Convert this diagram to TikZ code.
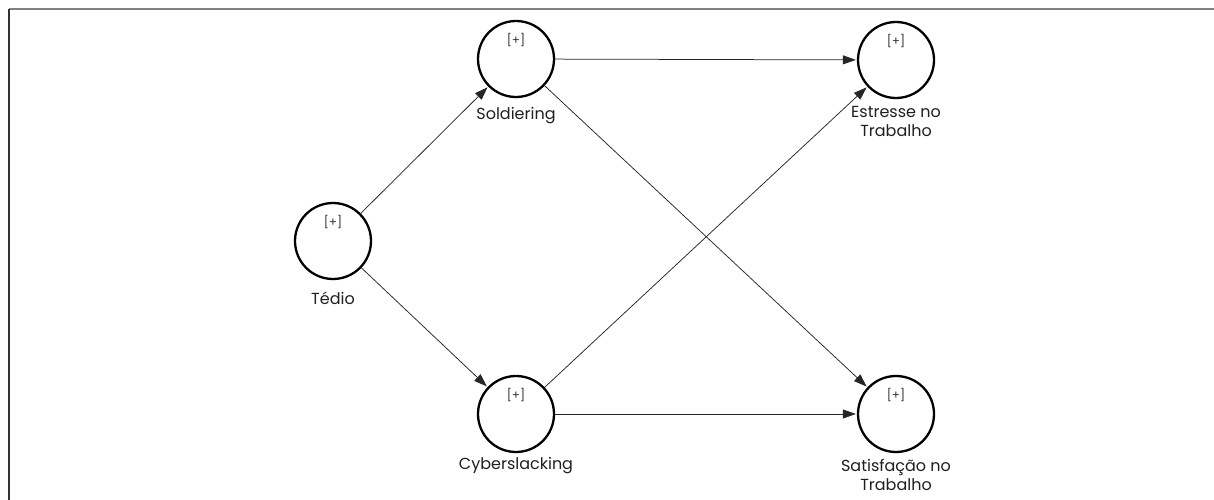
\documentclass[tikz,border=0pt]{standalone}
\usepackage{fontspec}
\setmainfont{Poppins}
\usetikzlibrary{arrows.meta}
\begin{document}
\begin{tikzpicture}[x=1pt,y=-1pt,
  construct/.style={circle,draw=black,line width=2.3pt,minimum size=76pt,inner sep=0pt},
  caption/.style={text=black!88,font=\fontsize{16}{19}\selectfont,align=center,inner sep=0pt},
  plus/.style={text=black!80,font=\fontsize{12}{13}\selectfont,inner sep=0pt},
  path/.style={draw=black!85,line width=0.75pt,-{Triangle[length=13pt,width=9pt]},shorten >=1pt}]
\useasboundingbox (0,0) rectangle (1214,500);
% frame
\coordinate (ftl) at (9,9);
\coordinate (ftr) at (1214,9);
\coordinate (fbl) at (9,500);
\draw[black!50,line width=1.6pt] (ftl) -- (ftr);
\draw[black!80,line width=1.6pt] (ftl) -- (fbl);
% constructs
\node[construct] (ted) at (333,241) {};
\node[construct] (sol) at (516,59) {};
\node[construct] (cyb) at (516,414) {};
\node[construct] (est) at (896,60) {};
\node[construct] (sat) at (896,414) {};
% markers
\foreach \n in {ted,sol,cyb,est,sat}
  \node[plus] at ([yshift=19pt]\n.center) {[+]};
% labels
\node[caption] (ltd) at ([yshift=-57pt]ted.center) {Tédio};
\node[caption] (lsl) at ([yshift=-57pt]sol.center) {Soldiering};
\node[caption] (lcb) at ([yshift=-52pt]cyb.center) {Cyberslacking};
\node[caption,anchor=north] (les) at ([yshift=-46pt]est.center) {Estresse no\\Trabalho};
\node[caption,anchor=north] (lsa) at ([yshift=-45pt]sat.center) {Satisfação no\\Trabalho};
% paths
\draw[path] (ted) -- (sol);
\draw[path] (ted) -- (cyb);
\draw[path] (sol) -- (est);
\draw[path] (sol) -- (sat);
\draw[path] (cyb) -- (est);
\draw[path] (cyb) -- (sat);
\end{tikzpicture}
\end{document}
